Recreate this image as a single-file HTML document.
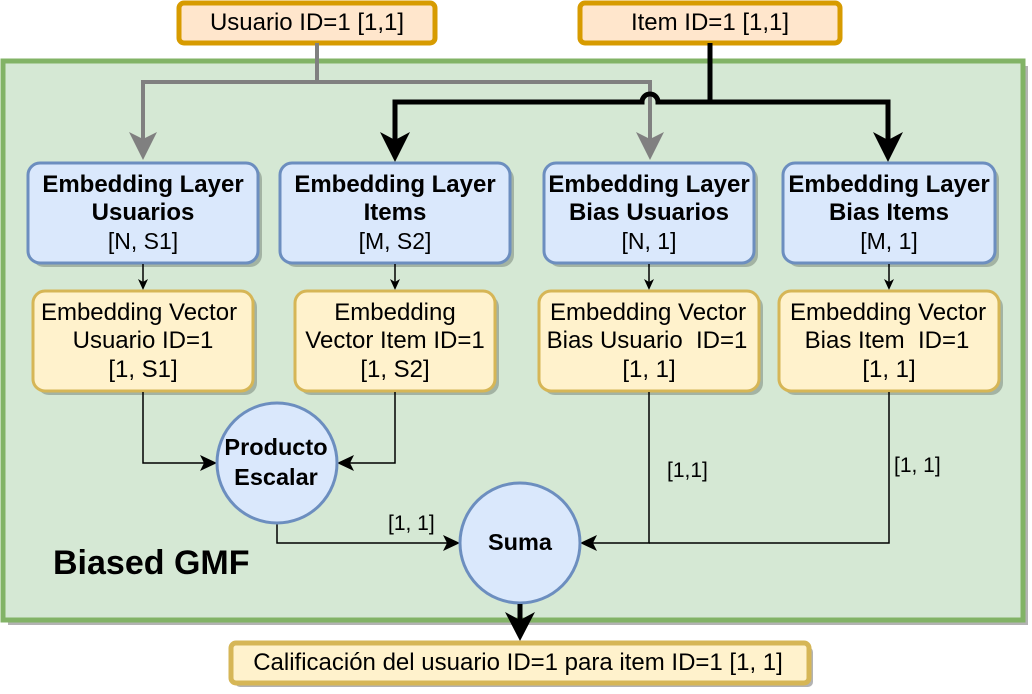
<!DOCTYPE html>
<html><head><meta charset="utf-8"><style>html,body{margin:0;padding:0;background:#fff}svg{display:block}text{font-family:"Liberation Sans",Arial,sans-serif}</style></head><body>
<svg width="1032" height="694" viewBox="0 0 1032 694" xmlns="http://www.w3.org/2000/svg">
<rect x="8" y="66" width="1020" height="559" fill="#b3b3b3"/>
<rect x="3" y="61" width="1020" height="559" fill="#d5e8d4" stroke="#82b366" stroke-width="5"/>
<rect x="179" y="3" width="256" height="40" rx="5" fill="#ffe6cc" stroke="#d79b00" stroke-width="5"/>
<text x="307" y="30" font-size="24" text-anchor="middle">Usuario ID=1 [1,1]</text>
<rect x="580" y="3" width="260" height="40" rx="5" fill="#ffe6cc" stroke="#d79b00" stroke-width="5"/>
<text x="710" y="30" font-size="24" text-anchor="middle">Item ID=1 [1,1]</text>
<path d="M317 43 V82 H143 V140 M317 82 H650 V140" fill="none" stroke="#808080" stroke-width="4"/>
<path d="M129 132 L143 160 L157 132 L143 139 Z" fill="#808080"/>
<path d="M636 132 L650 160 L664 132 L650 139 Z" fill="#808080"/>
<path d="M710 43 V102 H888 V140 M710 102 H658 A8 8 0 0 0 642 102 H395 V140" fill="none" stroke="#000" stroke-width="5"/>
<path d="M380 132 L395 162 L410 132 L395 140 Z" fill="#000"/>
<path d="M873 132 L888 162 L903 132 L888 140 Z" fill="#000"/>
<g font-size="24" text-anchor="middle">
<rect x="32" y="167" width="230" height="100" rx="12" fill="#a3b3a3"/>
<rect x="28" y="163" width="230" height="100" rx="12" fill="#dae8fc" stroke="#6c8ebf" stroke-width="3"/>
<text x="143" y="192" font-weight="bold">Embedding Layer</text><text x="143" y="220" font-weight="bold">Usuarios</text><text x="143" y="249" font-size="23">[N, S1]</text>
<rect x="284" y="167" width="230" height="100" rx="12" fill="#a3b3a3"/>
<rect x="280" y="163" width="230" height="100" rx="12" fill="#dae8fc" stroke="#6c8ebf" stroke-width="3"/>
<text x="395" y="192" font-weight="bold">Embedding Layer</text><text x="395" y="220" font-weight="bold">Items</text><text x="395" y="249" font-size="23">[M, S2]</text>
<rect x="548" y="167" width="210" height="100" rx="12" fill="#a3b3a3"/>
<rect x="544" y="163" width="210" height="100" rx="12" fill="#dae8fc" stroke="#6c8ebf" stroke-width="3"/>
<text x="649" y="192" font-weight="bold">Embedding Layer</text><text x="649" y="220" font-weight="bold">Bias Usuarios</text><text x="649" y="249" font-size="23">[N, 1]</text>
<rect x="787" y="167" width="212" height="100" rx="12" fill="#a3b3a3"/>
<rect x="783" y="163" width="212" height="100" rx="12" fill="#dae8fc" stroke="#6c8ebf" stroke-width="3"/>
<text x="889" y="192" font-weight="bold">Embedding Layer</text><text x="889" y="220" font-weight="bold">Bias Items</text><text x="889" y="249" font-size="23">[M, 1]</text>
</g>
<g stroke="#000" stroke-width="1.5" fill="none"><path d="M143 264 V286"/><path d="M395 264 V286"/><path d="M649 264 V286"/><path d="M889 264 V286"/></g>
<g fill="#000"><path d="M138 279 L143 290 L148 279 L143 282Z"/><path d="M390 279 L395 290 L400 279 L395 282Z"/><path d="M644 279 L649 290 L654 279 L649 282Z"/><path d="M884 279 L889 290 L894 279 L889 282Z"/></g>
<g font-size="24" text-anchor="middle">
<rect x="37" y="295" width="220" height="100" rx="12" fill="#a3b3a3"/>
<rect x="33" y="291" width="220" height="100" rx="12" fill="#fff2cc" stroke="#d6b656" stroke-width="3"/>
<text x="139" y="320">Embedding Vector</text><text x="143" y="348">Usuario ID=1</text><text x="143" y="377">[1, S1]</text>
<rect x="299" y="295" width="200" height="100" rx="12" fill="#a3b3a3"/>
<rect x="295" y="291" width="200" height="100" rx="12" fill="#fff2cc" stroke="#d6b656" stroke-width="3"/>
<text x="395" y="320">Embedding</text><text x="395" y="348">Vector Item ID=1</text><text x="395" y="377">[1, S2]</text>
<rect x="543" y="295" width="220" height="100" rx="12" fill="#a3b3a3"/>
<rect x="539" y="291" width="220" height="100" rx="12" fill="#fff2cc" stroke="#d6b656" stroke-width="3"/>
<text x="648" y="320">Embedding Vector</text><text x="647" y="348" xml:space="preserve">Bias Usuario  ID=1</text><text x="649" y="377">[1, 1]</text>
<rect x="783" y="295" width="220" height="100" rx="12" fill="#a3b3a3"/>
<rect x="779" y="291" width="220" height="100" rx="12" fill="#fff2cc" stroke="#d6b656" stroke-width="3"/>
<text x="888" y="320">Embedding Vector</text><text x="887" y="348" xml:space="preserve">Bias Item  ID=1</text><text x="889" y="377">[1, 1]</text>
</g>
<g stroke="#000" stroke-width="1.5" fill="none">
<path d="M143 392 V463 H210"/><path d="M395 392 V463 H344"/>
<path d="M277 524 V543 H452"/><path d="M649 392 V543 H588"/><path d="M889 392 V543 H649"/>
</g>
<g fill="#000">
<path d="M200 455 L217 463 L200 471 L204 463Z"/>
<path d="M354 455 L337 463 L354 471 L350 463Z"/>
<path d="M443 535 L460 543 L443 551 L447 543Z"/>
<path d="M597 535 L580 543 L597 551 L593 543Z"/>
</g>
<text x="667" y="477" font-size="21">[1,1]</text>
<text x="894" y="472" font-size="21">[1, 1]</text>
<text x="388" y="530" font-size="21">[1, 1]</text>
<circle cx="277" cy="463" r="60" fill="#dae8fc" stroke="#6c8ebf" stroke-width="3"/>
<text x="276" y="455" font-size="23.5" font-weight="bold" text-anchor="middle">Producto</text>
<text x="276" y="485" font-size="23.5" font-weight="bold" text-anchor="middle">Escalar</text>
<circle cx="520" cy="543" r="60" fill="#dae8fc" stroke="#6c8ebf" stroke-width="3"/>
<text x="520" y="550" font-size="23.5" font-weight="bold" text-anchor="middle">Suma</text>
<text x="53" y="574" font-size="34" font-weight="bold">Biased GMF</text>
<path d="M520 604 V625" stroke="#000" stroke-width="5"/>
<path d="M505 612 L520 641 L535 612 L520 620Z" fill="#000"/>
<rect x="235" y="647" width="578" height="40" rx="5" fill="#b3b3b3"/>
<rect x="231" y="643" width="578" height="40" rx="5" fill="#fff2cc" stroke="#d6b656" stroke-width="5"/>
<text x="518" y="670" font-size="24" text-anchor="middle">Calificación del usuario ID=1 para item ID=1 [1, 1]</text>
</svg>
</body></html>
